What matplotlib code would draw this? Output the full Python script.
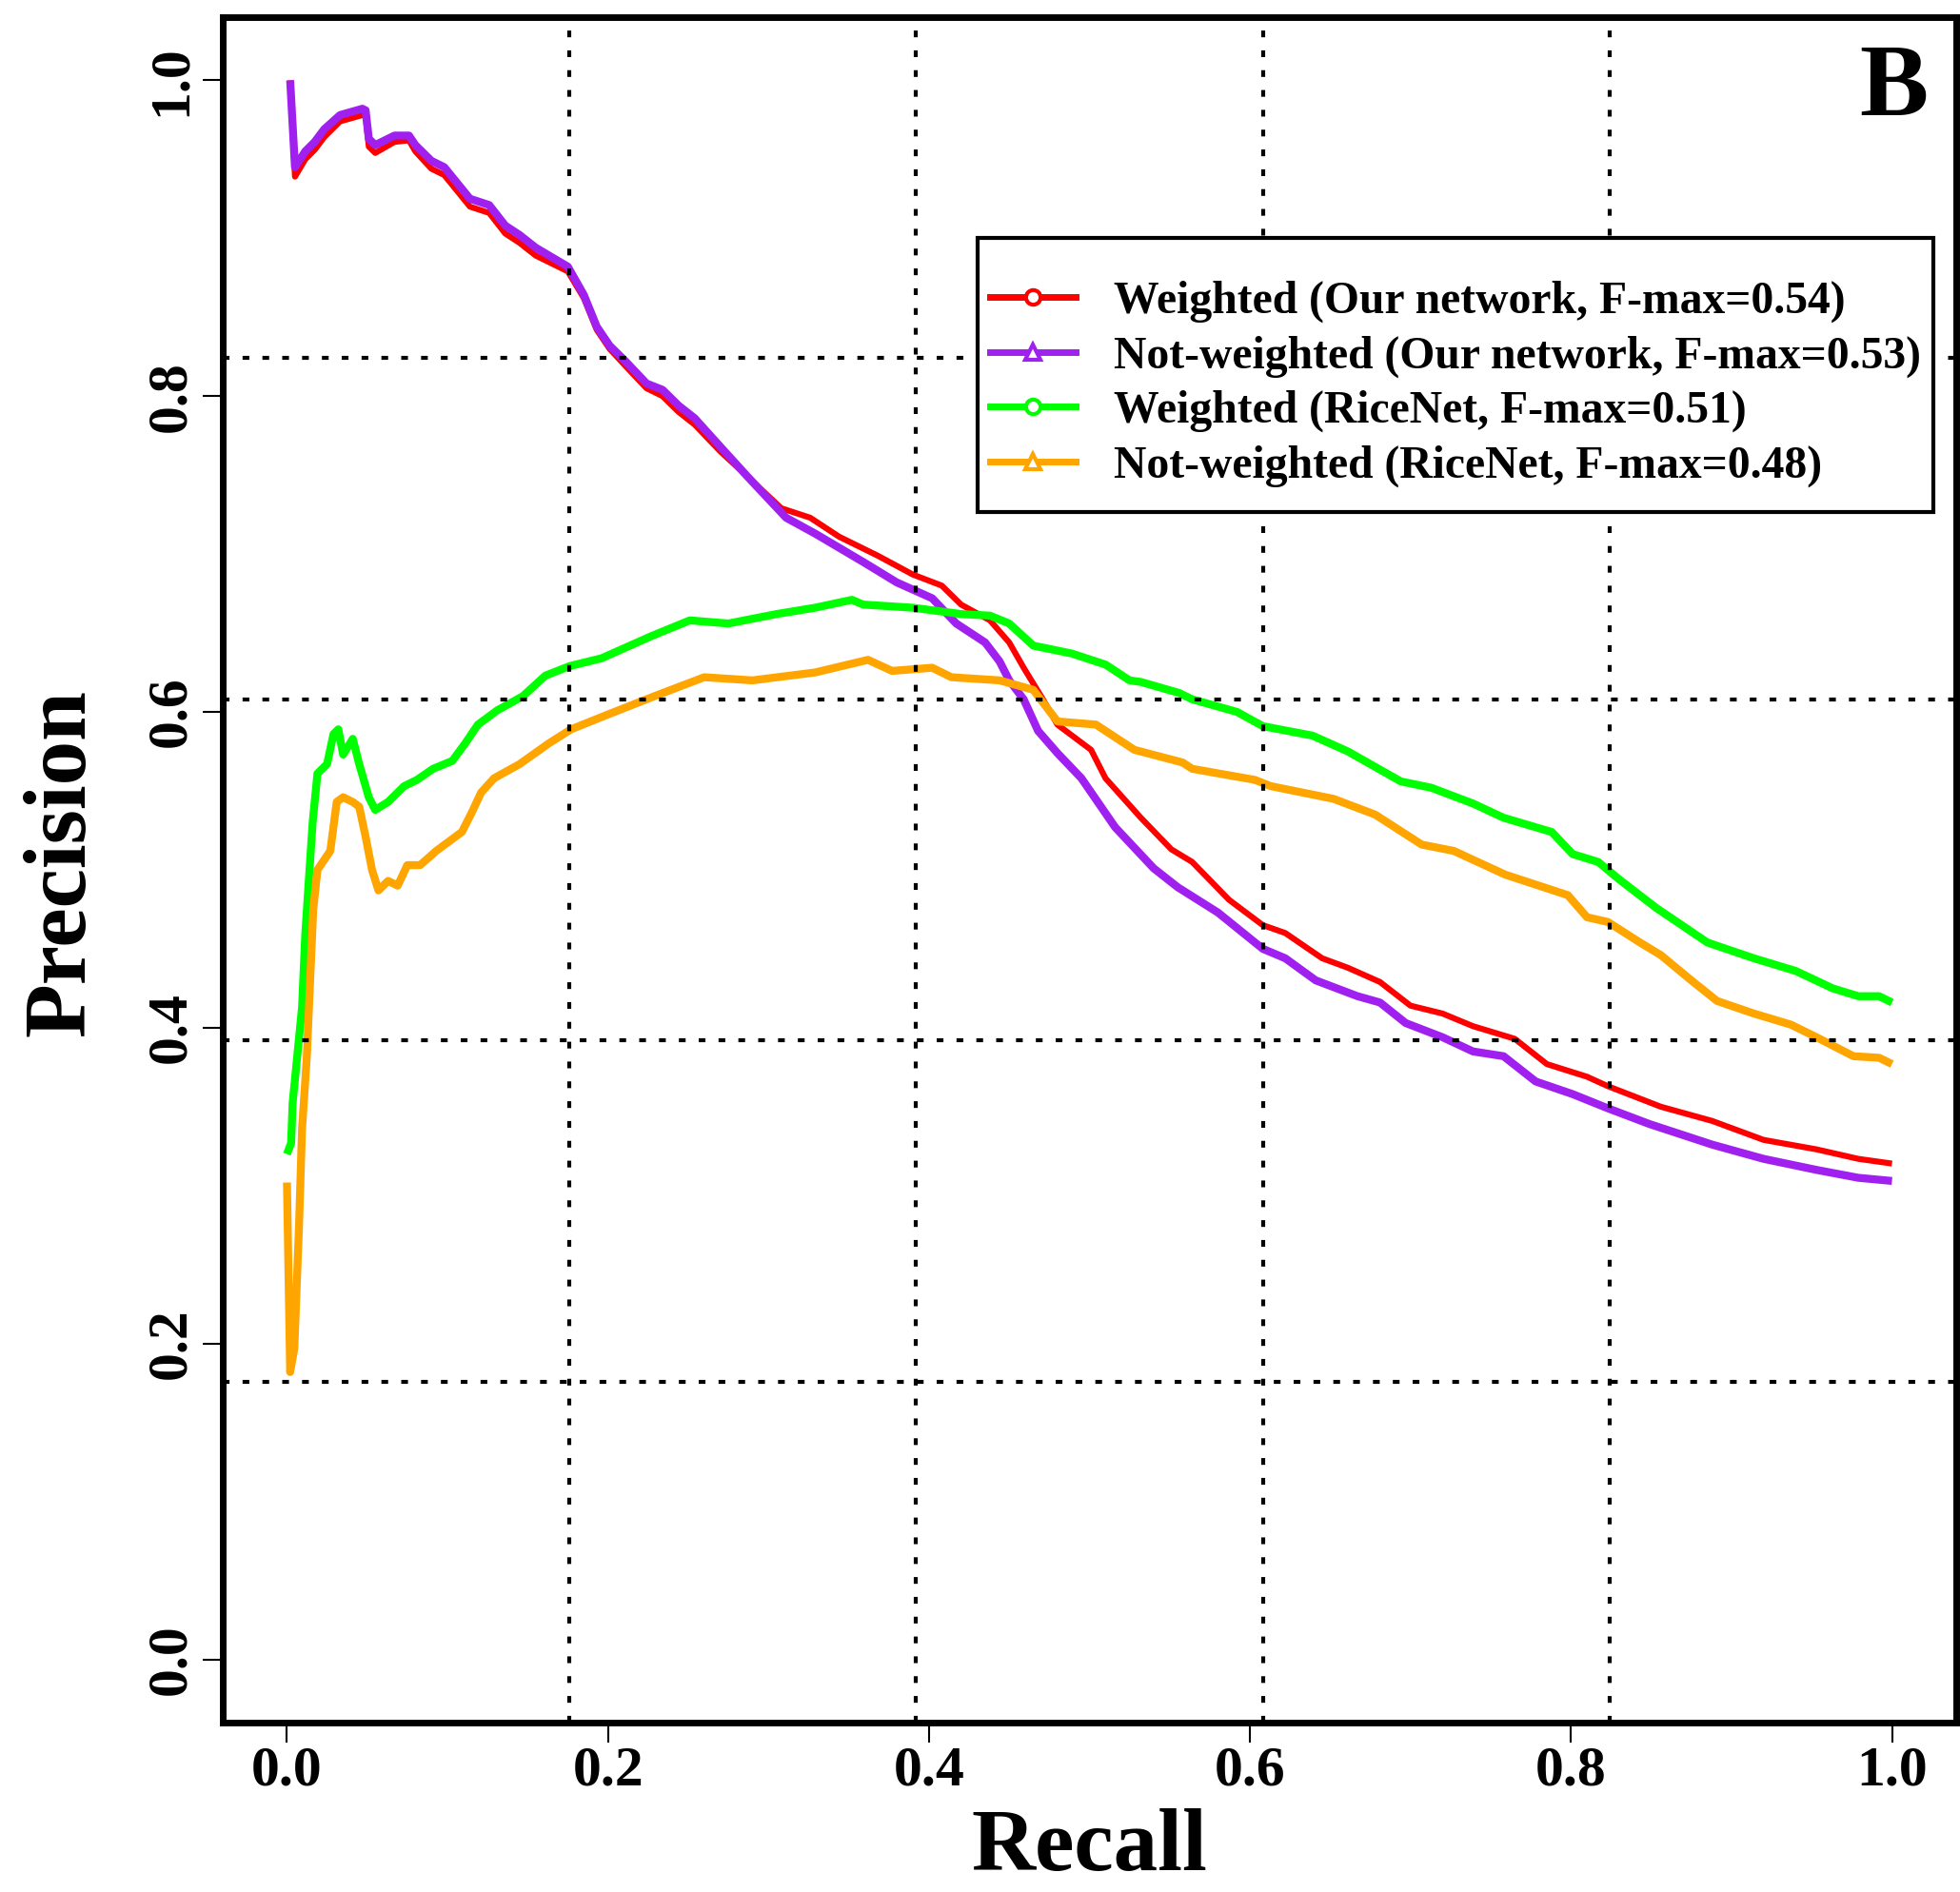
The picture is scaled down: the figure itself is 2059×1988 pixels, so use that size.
import numpy as np
import matplotlib
matplotlib.use('Agg')
import matplotlib.pyplot as plt
from matplotlib.patches import Rectangle
from matplotlib.lines import Line2D

# ---------------- data ----------------
red_recall = [0.002, 0.005, 0.0114, 0.0173, 0.0232, 0.0331, 0.047, 0.049, 0.051, 0.055,
              0.067, 0.076, 0.080, 0.090, 0.098, 0.106, 0.114, 0.126, 0.136, 0.145,
              0.155, 0.165, 0.175, 0.185, 0.193, 0.201, 0.211, 0.224, 0.234, 0.244,
              0.254, 0.270, 0.287, 0.308, 0.326, 0.344, 0.368, 0.390, 0.408, 0.420,
              0.438, 0.450, 0.459, 0.471, 0.480, 0.501, 0.510, 0.532, 0.551, 0.564,
              0.587, 0.608, 0.622, 0.645, 0.661, 0.681, 0.700, 0.720, 0.739, 0.765,
              0.785, 0.810, 0.823, 0.856, 0.888, 0.920, 0.953, 0.979, 1.0]
red_precision = [1.0, 0.939, 0.950, 0.956, 0.964, 0.974, 0.978, 0.977, 0.958, 0.954,
                 0.961, 0.962, 0.955, 0.944, 0.940, 0.930, 0.920, 0.916, 0.903, 0.897,
                 0.889, 0.884, 0.879, 0.862, 0.842, 0.830, 0.819, 0.805, 0.800, 0.790,
                 0.782, 0.765, 0.749, 0.729, 0.723, 0.711, 0.699, 0.687, 0.680, 0.668,
                 0.658, 0.644, 0.628, 0.608, 0.592, 0.576, 0.558, 0.533, 0.513, 0.505,
                 0.481, 0.465, 0.460, 0.444, 0.438, 0.429, 0.414, 0.409, 0.401, 0.393,
                 0.377, 0.369, 0.363, 0.350, 0.341, 0.329, 0.323, 0.317, 0.314]

purple_recall = [0.002, 0.005, 0.0114, 0.0173, 0.0232, 0.0331, 0.047, 0.049, 0.051, 0.055,
                 0.067, 0.076, 0.080, 0.090, 0.098, 0.106, 0.114, 0.126, 0.136, 0.145,
                 0.155, 0.165, 0.175, 0.185, 0.193, 0.201, 0.211, 0.224, 0.234, 0.244,
                 0.254, 0.270, 0.287, 0.311, 0.329, 0.359, 0.380, 0.402, 0.417, 0.435,
                 0.444, 0.450, 0.459, 0.468, 0.480, 0.495, 0.516, 0.540, 0.555, 0.580,
                 0.608, 0.622, 0.641, 0.667, 0.681, 0.697, 0.720, 0.739, 0.758, 0.778,
                 0.801, 0.823, 0.849, 0.888, 0.920, 0.953, 0.979, 1.0]
purple_precision = [1.0, 0.945, 0.955, 0.961, 0.969, 0.978, 0.982, 0.981, 0.963, 0.959,
                    0.965, 0.965, 0.959, 0.949, 0.945, 0.935, 0.925, 0.921, 0.908, 0.902,
                    0.894, 0.888, 0.882, 0.864, 0.844, 0.832, 0.822, 0.808, 0.804, 0.794,
                    0.786, 0.768, 0.749, 0.723, 0.713, 0.695, 0.682, 0.672, 0.656, 0.644,
                    0.632, 0.620, 0.608, 0.588, 0.574, 0.558, 0.527, 0.501, 0.489, 0.473,
                    0.450, 0.444, 0.430, 0.420, 0.416, 0.403, 0.394, 0.385, 0.382, 0.366,
                    0.358, 0.349, 0.339, 0.326, 0.317, 0.310, 0.305, 0.303]

green_recall = [0.0, 0.0026, 0.0035, 0.0064, 0.0094, 0.0114, 0.0134, 0.016, 0.019, 0.025,
                0.029, 0.032, 0.035, 0.041, 0.045, 0.051, 0.055, 0.063, 0.073, 0.081,
                0.091, 0.103, 0.111, 0.119, 0.131, 0.147, 0.161, 0.176, 0.196, 0.227,
                0.251, 0.275, 0.305, 0.329, 0.352, 0.359, 0.390, 0.420, 0.438, 0.450,
                0.465, 0.489, 0.510, 0.525, 0.532, 0.556, 0.564, 0.592, 0.608, 0.639,
                0.661, 0.694, 0.713, 0.739, 0.758, 0.788, 0.801, 0.817, 0.830, 0.853,
                0.885, 0.914, 0.940, 0.963, 0.979, 0.992, 1.0]
green_precision = [0.320, 0.327, 0.352, 0.382, 0.413, 0.459, 0.490, 0.530, 0.561, 0.567,
                   0.586, 0.589, 0.573, 0.583, 0.567, 0.546, 0.538, 0.543, 0.553, 0.557,
                   0.564, 0.569, 0.580, 0.592, 0.601, 0.610, 0.623, 0.629, 0.634, 0.648,
                   0.658, 0.656, 0.662, 0.666, 0.671, 0.668, 0.666, 0.662, 0.661, 0.656,
                   0.642, 0.637, 0.630, 0.620, 0.619, 0.612, 0.608, 0.600, 0.591, 0.585,
                   0.575, 0.556, 0.552, 0.542, 0.533, 0.524, 0.510, 0.505, 0.494, 0.476,
                   0.454, 0.444, 0.436, 0.425, 0.420, 0.420, 0.416]

orange_recall = [0.0, 0.002, 0.0046, 0.0075, 0.0094, 0.0124, 0.0144, 0.0164, 0.019, 0.023,
                 0.027, 0.031, 0.035, 0.041, 0.045, 0.049, 0.053, 0.057, 0.063, 0.069,
                 0.075, 0.083, 0.093, 0.101, 0.109, 0.115, 0.121, 0.129, 0.145, 0.163,
                 0.177, 0.199, 0.229, 0.260, 0.290, 0.329, 0.362, 0.377, 0.402, 0.414,
                 0.444, 0.465, 0.480, 0.504, 0.528, 0.558, 0.564, 0.603, 0.613, 0.652,
                 0.678, 0.707, 0.727, 0.759, 0.798, 0.810, 0.823, 0.843, 0.856, 0.875,
                 0.891, 0.914, 0.937, 0.953, 0.976, 0.992, 1.0]
orange_precision = [0.302, 0.182, 0.197, 0.274, 0.336, 0.382, 0.429, 0.475, 0.500, 0.506,
                    0.512, 0.543, 0.546, 0.543, 0.540, 0.521, 0.500, 0.487, 0.493, 0.490,
                    0.503, 0.503, 0.512, 0.518, 0.524, 0.536, 0.549, 0.558, 0.567, 0.580,
                    0.589, 0.598, 0.610, 0.622, 0.620, 0.625, 0.633, 0.626, 0.628, 0.622,
                    0.620, 0.614, 0.594, 0.592, 0.576, 0.568, 0.564, 0.557, 0.553, 0.545,
                    0.535, 0.516, 0.512, 0.497, 0.484, 0.470, 0.467, 0.454, 0.446, 0.430,
                    0.417, 0.409, 0.402, 0.394, 0.382, 0.381, 0.377]

series_labels = ["Weighted (Our network, F-max=0.54)",
                 "Not-weighted (Our network, F-max=0.53)",
                 "Weighted (RiceNet, F-max=0.51)",
                 "Not-weighted (RiceNet, F-max=0.48)"]
tick_values = [0.0, 0.2, 0.4, 0.6, 0.8, 1.0]
tick_labels = ["0.0", "0.2", "0.4", "0.6", "0.8", "1.0"]
x_title = "Recall"
y_title = "Precision"
panel_letter = "B"

# ---------------- styling ----------------
plt.rcParams['font.family'] = ['Liberation Serif', 'DejaVu Serif']
plt.rcParams['font.weight'] = 'bold'

colors = ['#FF0000', '#A020F0', '#00FF00', '#FFA500']
markers = ['o', '^', 'o', '^']
widths = [4.5, 6.0, 6.0, 6.0]

fig = plt.figure(figsize=(20.59, 19.88), dpi=100)
ax = fig.add_axes([0.11365, 0.08954, 0.8844, 0.9014])
ax.set_xlim(-0.04, 1.04)
ax.set_ylim(-0.04, 1.04)

curves = [(red_recall, red_precision), (purple_recall, purple_precision),
          (green_recall, green_precision), (orange_recall, orange_precision)]
for (xs, ys), c, w in zip(curves, colors, widths):
    ax.plot(xs, ys, color=c, lw=w, solid_joinstyle='round', solid_capstyle='butt', zorder=2)

# R-style grid(): equally spaced over the full plotting region
gx = np.linspace(*ax.get_xlim(), 6)[1:-1]
gy = np.linspace(*ax.get_ylim(), 6)[1:-1]
dot = (0, (1.7, 3.3))
for g in gx:
    ax.axvline(g, color='black', lw=3, ls=dot, zorder=3)
for g in gy:
    ax.axhline(g, color='black', lw=3, ls=dot, zorder=3)

for s in ax.spines.values():
    s.set_linewidth(5)
    s.set_zorder(6)

ax.set_xticks(tick_values, labels=tick_labels)
ax.set_yticks(tick_values, labels=tick_labels, rotation=90, va='center')
ax.tick_params(axis='both', direction='out', length=15, width=1.5, labelsize=43)
ax.tick_params(axis='x', pad=3)
ax.tick_params(axis='y', pad=4)

ax.set_xlabel(x_title, fontsize=67, fontweight='bold', va='center')
ax.xaxis.set_label_coords(0.5, -0.0742)
ax.set_ylabel(y_title, fontsize=67, fontweight='bold', va='center')
ax.yaxis.set_label_coords(-0.0925, 0.504)

ax.text(0.964, 0.957, panel_letter, transform=ax.transAxes, fontsize=78,
        fontweight='bold', ha='center', va='center', zorder=7)

# legend box
ax.add_patch(Rectangle((0.4355, 0.710), 0.5515, 0.1605, transform=ax.transAxes,
                       facecolor='white', edgecolor='black', lw=3, zorder=4))
handles = [Line2D([], [], color=c, lw=5, marker=m, markersize=11,
                  markerfacecolor='white', markeredgecolor=c, markeredgewidth=3)
           for c, m in zip(colors, markers)]
leg = ax.legend(handles, series_labels, loc='center left', bbox_to_anchor=(0.4426, 0.785),
                frameon=False, handlelength=1.88, handletextpad=0.85,
                labelspacing=0.28, borderpad=0, borderaxespad=0,
                prop={'weight': 'bold', 'size': 34.3})
leg.set_zorder(5)

fig.savefig('out.png', dpi=100, facecolor='white')
